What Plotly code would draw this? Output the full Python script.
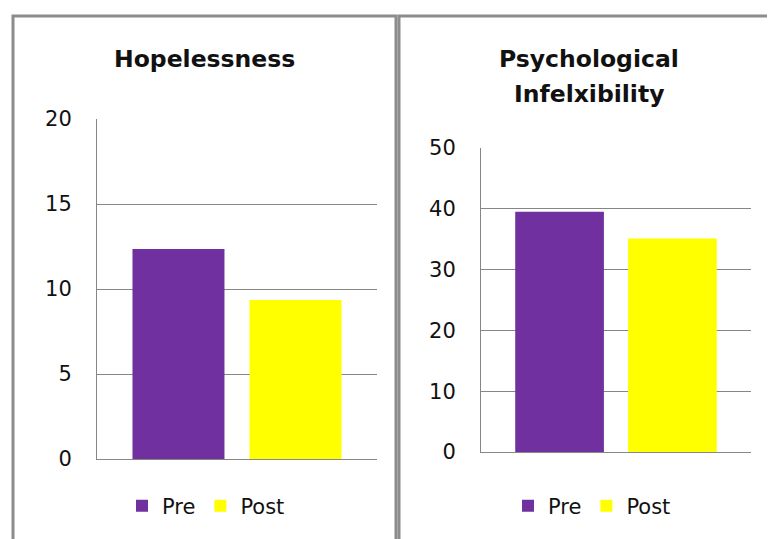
import plotly.graph_objects as go

# ---- data ----
series = ["Pre", "Post"]
colors = ["#7030A0", "#FFFF00"]
hopelessness = [12.35, 9.35]
inflexibility = [39.5, 35.1]
title_lines = [["Hopelessness"], ["Psychological", "Infelxibility"]]
y1_ticks = [0, 5, 10, 15, 20]
y2_ticks = [0, 10, 20, 30, 40, 50]

W, H = 775, 539
OFF = 8  # page body margin offset
FONT = "'DejaVu Sans', sans-serif"
GRID = "#868686"


def px_x(p):
    return (p - OFF) / W


def px_y(p):
    return 1 - (p - OFF) / H


fig = go.Figure()
for i, name in enumerate(series):
    fig.add_trace(go.Bar(x=[""], y=[hopelessness[i]], name=name,
                         marker=dict(color=colors[i], line=dict(width=0)),
                         xaxis="x", yaxis="y", legend="legend"))
for i, name in enumerate(series):
    fig.add_trace(go.Bar(x=[""], y=[inflexibility[i]], name=name,
                         marker=dict(color=colors[i], line=dict(width=0)),
                         xaxis="x2", yaxis="y2", legend="legend2"))

yax_common = dict(showline=True, linecolor=GRID, linewidth=1, showgrid=True,
                  gridcolor=GRID, gridwidth=1, ticks="", zeroline=False,
                  tickfont=dict(size=21, color="#111", family=FONT),
                  ticklabelstandoff=20, automargin=False)
xax_common = dict(showline=True, linecolor=GRID, linewidth=1, showticklabels=False,
                  ticks="", showgrid=False, zeroline=False, range=[-0.5, 0.5],
                  automargin=False)

legend_common = dict(orientation="h", font=dict(size=21, family=FONT, color="#111"),
                     bgcolor="rgba(0,0,0,0)", xanchor="center", yanchor="middle",
                     itemclick=False, itemdoubleclick=False, tracegroupgap=0)

fig.update_layout(
    width=W, height=H,
    margin=dict(l=0, r=0, t=0, b=0, pad=0, autoexpand=False),
    paper_bgcolor="white", plot_bgcolor="white",
    barmode="group", bargap=0.164, bargroupgap=0.214,
    font=dict(family=FONT, color="#111"),
    xaxis=dict(domain=[px_x(97), px_x(377)], anchor="y", **xax_common),
    yaxis=dict(domain=[px_y(459), px_y(119)], anchor="x", range=[0, 20],
               tickvals=y1_ticks, **yax_common),
    xaxis2=dict(domain=[px_x(481), px_x(751)], anchor="y2", **xax_common),
    yaxis2=dict(domain=[px_y(452), px_y(148)], anchor="x2", range=[0, 50],
                tickvals=y2_ticks, **yax_common),
    legend=dict(x=px_x(206), y=px_y(506), **legend_common),
    legend2=dict(x=px_x(592), y=px_y(506), **legend_common),
    showlegend=True,
)

# titles (one annotation per line to match the wide line spacing)
title_pos = [(204, [59]), (589, [59, 94])]
for lines, (cx, ys) in zip(title_lines, title_pos):
    for line, cy in zip(lines, ys):
        fig.add_annotation(text="<b>" + line + "</b>", x=px_x(cx), y=px_y(cy),
                           xref="paper", yref="paper", showarrow=False,
                           xanchor="center", yanchor="middle",
                           font=dict(size=23.5, family=FONT, color="#111"))

# panel borders
BORDER = "#8c8c8c"
fig.add_shape(type="rect", xref="paper", yref="paper",
              x0=px_x(13), x1=px_x(396), y0=-0.1, y1=px_y(16),
              line=dict(color=BORDER, width=3), fillcolor="rgba(0,0,0,0)", layer="above")
fig.add_shape(type="rect", xref="paper", yref="paper",
              x0=px_x(399), x1=1.1, y0=-0.1, y1=px_y(16),
              line=dict(color=BORDER, width=3), fillcolor="rgba(0,0,0,0)", layer="above")

fig.write_html("out.html")
